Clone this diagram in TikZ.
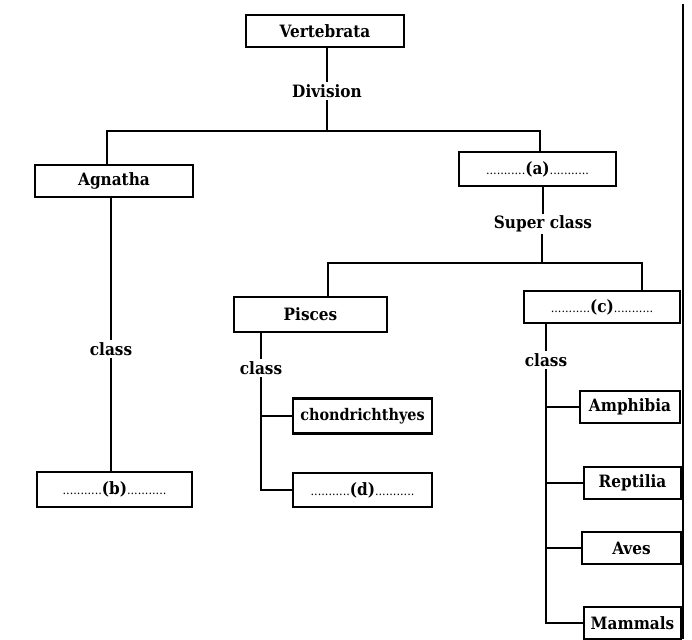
\documentclass[tikz,border=0pt]{standalone}
\usepackage{fontspec}
\setmainfont{DejaVu Serif Condensed}
\newcommand{\dts}{{\fontsize{12.5}{12}\selectfont\mdseries ...........}}
\begin{document}
\begin{tikzpicture}[x=1pt,y=-1pt,
  box/.style={draw, line width=2.2pt, inner sep=0pt, minimum height=32pt,
    font=\fontsize{17}{19}\selectfont\bfseries},
  lbl/.style={inner sep=2pt, font=\fontsize{17}{19}\selectfont\bfseries},
  conn/.style={line width=2.2pt}]
\useasboundingbox (0,0) rectangle (692,639);
\fill[white] (0,0) rectangle (692,639);
% nodes
\node[box, minimum width=158pt] (vert) at (325,31) {Vertebrata};
\node[lbl] (div) at (327,91) {Division};
\node[box, minimum width=158pt] (agn) at (114,181) {Agnatha};
\node[box, minimum width=157pt, minimum height=34pt] (a) at (537.5,169) {\dts(a)\dts};
\node[lbl] (sup) at (543,224) {Super class};
\node[box, minimum width=153pt, minimum height=35pt] (pis) at (310.5,314.5) {Pisces};
\node[box, minimum width=156pt] (c) at (602,307) {\dts(c)\dts};
\node[lbl] (cls1) at (111,349) {class};
\node[box, minimum width=155pt, minimum height=35pt] (b) at (114.5,489.5) {\dts(b)\dts};
\node[lbl] (cls2) at (261,368) {class};
\node[box, minimum width=139pt, minimum height=35pt, font=\fontsize{16}{18}\selectfont\bfseries] (chon) at (362.5,416) {chondrichthyes};
\node[box, minimum width=139pt, minimum height=34pt] (d) at (362.5,490) {\dts(d)\dts};
\node[lbl] (cls3) at (546,360) {class};
\node[box, minimum width=100pt] (amph) at (630,407) {Amphibia};
\node[box, minimum width=97pt] (rep) at (632.5,483) {Reptilia};
\node[box, minimum width=99pt] (aves) at (631.5,548) {Aves};
\node[box, minimum width=97pt] (mam) at (632.5,623) {Mammals};
\coordinate (j1) at (327,131);
\coordinate (j2) at (542,263);
\coordinate (edgeT) at (683,4);
\coordinate (edgeB) at (683,639);
% connectors
\draw[conn] (vert.south -| div) -- (div);
\draw[conn] (div) -- (j1);
\draw[conn] ([xshift=-7pt]agn.north) |- (j1) -| ([xshift=2.5pt]a.north);
\draw[conn] (a.south -| sup) -- (sup);
\draw[conn] (sup.south -| j2) -- (j2);
\draw[conn] ([xshift=17.5pt]pis.north) |- (j2) -| ([xshift=40pt]c.north);
\draw[conn] (agn.south -| cls1) -- (cls1);
\draw[conn] (cls1) -- (cls1 |- b.north);
\draw[conn] (pis.south -| cls2) -- (cls2);
\draw[conn] (cls2) |- (d.west);
\draw[conn] (cls2 |- chon.west) -- (chon.west);
\draw[conn] (c.south -| cls3) -- (cls3);
\draw[conn] (cls3) |- (mam.west);
\draw[conn] (cls3 |- amph.west) -- (amph.west);
\draw[conn] (cls3 |- rep.west) -- (rep.west);
\draw[conn] (cls3 |- aves.west) -- (aves.west);
\draw[line width=2.6pt] (edgeT) -- (edgeB);
\end{tikzpicture}
\end{document}
